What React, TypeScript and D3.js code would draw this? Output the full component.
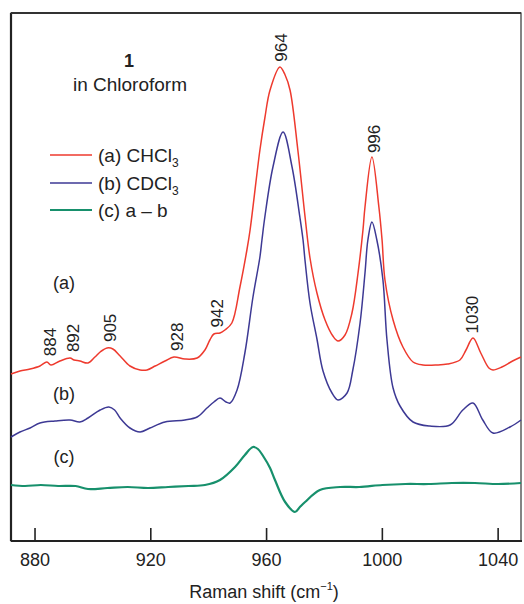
import React from 'react';
import * as d3 from 'd3';

// Raman shift (cm-1), intensity (a.u.)
const spectrumA: [number, number][] = [
  [871.7, 1.67], [874.8, 1.7], [878.3, 1.72], [881.7, 1.75], [884.1, 1.79], [885.5, 1.76],
  [888.6, 1.8], [892.1, 1.83], [893.5, 1.81], [895.5, 1.8], [898.3, 1.78], [900.7, 1.84],
  [902.5, 1.89], [904.9, 1.93], [906.9, 1.92], [909.4, 1.85], [912.8, 1.75], [916.3, 1.71],
  [918.7, 1.71], [921.5, 1.75], [924.9, 1.8], [928.0, 1.84], [931.8, 1.82], [936.0, 1.83],
  [938.7, 1.91], [940.4, 2.01], [941.8, 2.07], [943.9, 2.08], [945.6, 2.11], [948.0, 2.18],
  [950.8, 2.54], [953.2, 2.91], [954.3, 3.11], [957.7, 3.91], [959.4, 4.23], [961.2, 4.51],
  [964.6, 4.74], [966.4, 4.66], [968.1, 4.51], [970.8, 3.91], [973.3, 3.24], [975.0, 2.83],
  [977.4, 2.48], [980.2, 2.21], [982.9, 2.05], [984.7, 2.0], [987.1, 2.06], [989.5, 2.28],
  [991.6, 2.68], [993.3, 3.11], [994.0, 3.34], [996.4, 3.84], [998.8, 3.34], [999.9, 3.01],
  [1000.9, 2.61], [1003.7, 2.21], [1007.1, 1.94], [1010.6, 1.79], [1014.0, 1.76], [1018.9, 1.76],
  [1022.5, 1.77], [1026.8, 1.81], [1028.9, 1.91], [1031.3, 2.03], [1034.0, 1.88], [1036.8, 1.73],
  [1038.2, 1.71], [1041.3, 1.74], [1045.0, 1.8], [1047.9, 1.84]
];

const spectrumB: [number, number][] = [
  [871.7, 1.04], [874.8, 1.09], [878.3, 1.13], [881.7, 1.18], [886.9, 1.2], [892.1, 1.21],
  [895.5, 1.19], [898.3, 1.23], [902.5, 1.31], [905.5, 1.34], [907.5, 1.31], [909.4, 1.23],
  [912.8, 1.13], [916.3, 1.09], [919.7, 1.13], [924.9, 1.19], [931.8, 1.21], [936.0, 1.24],
  [939.4, 1.33], [941.8, 1.39], [943.9, 1.43], [946.0, 1.39], [947.4, 1.38], [949.8, 1.51],
  [952.5, 1.88], [955.3, 2.44], [957.7, 2.84], [958.4, 3.01], [959.4, 3.24], [962.2, 3.74],
  [965.7, 4.09], [968.8, 3.74], [971.5, 3.24], [972.6, 3.01], [973.3, 2.8], [975.0, 2.38],
  [977.4, 2.02], [979.5, 1.7], [982.6, 1.48], [984.7, 1.41], [987.8, 1.48], [989.8, 1.71],
  [992.3, 2.18], [994.0, 2.68], [995.0, 3.01], [996.4, 3.19], [998.1, 3.01], [1000.2, 2.61],
  [1001.6, 2.01], [1003.7, 1.53], [1006.1, 1.35], [1010.6, 1.19], [1016.4, 1.15], [1023.4, 1.16],
  [1027.8, 1.31], [1031.3, 1.38], [1034.7, 1.21], [1038.2, 1.08], [1044.1, 1.14], [1047.9, 1.21]
];

const spectrumC: [number, number][] = [
  [871.7, 0.56], [876.5, 0.55], [882.0, 0.56], [888.0, 0.55], [894.0, 0.55], [898.3, 0.52],
  [905.0, 0.53], [912.0, 0.54], [919.0, 0.53], [926.0, 0.54], [933.0, 0.55], [938.7, 0.56],
  [943.9, 0.61], [949.1, 0.74], [952.5, 0.86], [955.3, 0.94], [957.0, 0.92], [958.8, 0.85],
  [961.2, 0.73], [962.9, 0.61], [966.4, 0.39], [969.8, 0.29], [971.5, 0.34], [973.3, 0.39],
  [978.4, 0.51], [985.4, 0.54], [992.0, 0.54], [1000.0, 0.56], [1008.0, 0.57], [1016.0, 0.57],
  [1024.0, 0.58], [1032.0, 0.58], [1040.0, 0.57], [1047.9, 0.58]
];

const xTicks = [880, 920, 960, 1000, 1040];
const peakLabels = [884, 892, 905, 928, 942, 964, 996, 1030];
const traceLabels = ['(a)', '(b)', '(c)'];
const legendNames = ['(a) CHCl', '(b) CDCl', '(c) a \u2013 b'];
const legendSubs = ['3', '3', ''];

const W = 524;
const H = 604;
const m = { left: 11, right: 521, top: 13, bottom: 541 };
const colors = ['#ee3a2e', '#3d3994', '#17906c'];
const font = '"Liberation Sans", Arial, sans-serif';

const App: React.FC = () => {
  const x = d3.scaleLinear().domain([871.7, 1047.9]).range([m.left, m.right]);
  const y = d3.scaleLinear().domain([0, 5.28]).range([m.bottom, m.top]);
  const line = d3.line<[number, number]>().x(d => x(d[0])).y(d => y(d[1])).curve(d3.curveCatmullRom.alpha(0.5));
  const series = [spectrumA, spectrumB, spectrumC];

  // intensity of trace (a) at a given shift, for placing the peak labels
  const bis = d3.bisector((d: [number, number]) => d[0]).left;
  const valueAt = (data: [number, number][], v: number) => {
    const i = Math.max(1, Math.min(data.length - 1, bis(data, v)));
    const a = data[i - 1], b = data[i];
    const t = (v - a[0]) / (b[0] - a[0]);
    return a[1] + t * (b[1] - a[1]);
  };
  const peakTop = (v: number) => {
    // take the local max around the label position so text clears the curve
    let best = -Infinity;
    for (let dv = -1; dv <= 1; dv += 0.5) best = Math.max(best, valueAt(spectrumA, v + dv));
    return best;
  };

  const traceLabelY = [283, 394, 457];
  const legendY = [155, 183, 210];

  return <svg width={W} height={H} style={{ position: 'absolute', left: 0, top: 0, background: '#fff' }} fontFamily={font}>
      {/* frame */}
      <rect x={m.left} y={m.top} width={m.right - m.left} height={m.bottom - m.top} fill="none" stroke="#333" strokeWidth={1.2} />
      <line x1={m.left} x2={m.left} y1={m.top} y2={m.bottom} stroke="#222" strokeWidth={2.2} />
      <line x1={m.left} x2={m.right} y1={m.top} y2={m.top} stroke="#333" strokeWidth={2} />
      <line x1={m.left} x2={m.right + 1} y1={m.bottom} y2={m.bottom} stroke="#222" strokeWidth={2.2} />

      {/* x ticks, pointing in */}
      {xTicks.map(t => <g key={t}>
          <line x1={x(t)} x2={x(t)} y1={m.bottom} y2={m.bottom - 13} stroke="#222" strokeWidth={1.6} />
          <text x={x(t)} y={566} textAnchor="middle" fontSize={18} fill="#222">{t}</text>
        </g>)}
      <text x={264} y={598} textAnchor="middle" fontSize={18} fill="#222">
        Raman shift (cm<tspan dy={-8} fontSize={11}>{'\u2212'}1</tspan><tspan dy={8}>)</tspan>
      </text>

      {/* spectra */}
      {series.map((s, i) => <path key={i} d={line(s) || ''} fill="none" stroke={colors[i]} strokeWidth={i === 2 ? 2.2 : 1.5} strokeLinejoin="round" />)}

      {/* peak labels */}
      {peakLabels.map(p => {
      const px = x(p) + 3;
      const py = y(peakTop(p)) - 6;
      return <text key={p} transform={`translate(${px},${py}) rotate(-90)`} dy="0.35em" fontSize={17} fill="#222">{p}</text>;
    })}

      {/* trace labels */}
      {traceLabels.map((t, i) => <text key={t} x={64} y={traceLabelY[i]} dy="0.35em" textAnchor="middle" fontSize={18} fill="#222">{t}</text>)}

      {/* title */}
      <text x={129} y={67} textAnchor="middle" fontSize={18} fontWeight="bold" fill="#222">1</text>
      <text x={130} y={91} textAnchor="middle" fontSize={19} fill="#222">in Chloroform</text>

      {/* legend */}
      {legendNames.map((n, i) => <g key={n}>
          <line x1={50} x2={92} y1={legendY[i]} y2={legendY[i]} stroke={colors[i]} strokeWidth={i === 2 ? 2.2 : 1.5} />
          <text x={98} y={legendY[i]} dy="0.35em" fontSize={19} fill="#222">
            {n}{legendSubs[i] && <tspan dy={5} fontSize={12}>{legendSubs[i]}</tspan>}
          </text>
        </g>)}
    </svg>;
};

export default App;
